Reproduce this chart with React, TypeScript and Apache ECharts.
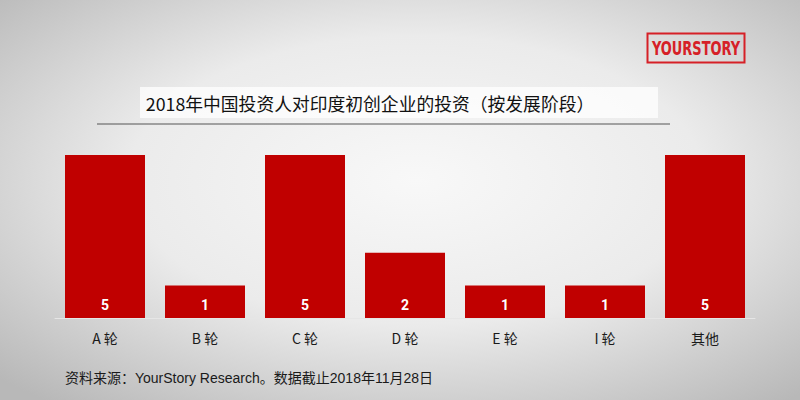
import React, { useEffect, useRef } from "react";
import * as echarts from "echarts";

const categories = ["A 轮", "B 轮", "C 轮", "D 轮", "E 轮", "I 轮", "其他"];
const values = [5, 1, 5, 2, 1, 1, 5];
const titleText = "2018年中国投资人对印度初创企业的投资（按发展阶段）";
const sourceText = "资料来源：YourStory Research。数据截止2018年11月28日";
const logoText = "YOURSTORY";

export default function App() {
  const ref = useRef<HTMLDivElement>(null);
  useEffect(() => {
    if (!ref.current) return;
    const chart = echarts.init(ref.current, undefined, { renderer: "svg" });
    chart.setOption({
      animation: false,
      backgroundColor: {
        type: "radial",
        x: 0.52,
        y: 0.45,
        r: 0.72,
        colorStops: [
          { offset: 0, color: "#f8f8f8" },
          { offset: 0.5, color: "#ebebeb" },
          { offset: 1, color: "#b8b8b8" },
        ],
      },
      grid: { left: 55, right: 45, top: 155, bottom: 82 },
      xAxis: {
        type: "category",
        data: categories,
        axisLine: { show: true, lineStyle: { color: "#e6e6e6", width: 1 } },
        axisTick: { show: false },
        axisLabel: {
          color: "#1a1a1a",
          fontSize: 14,
          margin: 13,
          fontFamily: "'Noto Sans CJK SC', 'Noto Sans', sans-serif",
        },
      },
      yAxis: {
        type: "value",
        min: 0,
        max: 5,
        show: false,
        splitLine: { show: false },
      },
      series: [
        {
          type: "bar",
          data: values,
          barWidth: 80,
          itemStyle: { color: "#c00000" },
          label: {
            show: true,
            position: "insideBottom",
            distance: 6,
            color: "#ffffff",
            fontSize: 14,
            fontWeight: "bold",
            fontFamily: "Roboto, sans-serif",
          },
        },
      ],
      graphic: [
        {
          type: "rect",
          shape: { x: 140, y: 87, width: 518, height: 31 },
          style: { fill: "rgba(255,255,255,0.75)" },
          z: 1,
        },
        {
          type: "text",
          x: 370,
          y: 103,
          z: 2,
          style: {
            text: titleText,
            fill: "#111111",
            fontSize: 17.8,
            fontFamily: "'Noto Sans CJK SC', sans-serif",
            align: "center",
            verticalAlign: "middle",
          },
        },
        {
          type: "line",
          shape: { x1: 97, y1: 124, x2: 670, y2: 124 },
          style: { stroke: "#555555", lineWidth: 1 },
          z: 2,
        },
        {
          type: "rect",
          shape: { x: 647.5, y: 33.5, width: 97, height: 29 },
          style: { fill: "rgba(255,255,255,0)", stroke: "#d62027", lineWidth: 2 },
          z: 2,
        },
        {
          type: "text",
          x: 696,
          y: 48.5,
          scaleX: 0.8,
          scaleY: 1.08,
          z: 2,
          style: {
            text: logoText,
            fill: "#d62027",
            fontSize: 18,
            fontWeight: "bold",
            fontFamily: "'DejaVu Sans Condensed', 'DejaVu Sans', sans-serif",
            align: "center",
            verticalAlign: "middle",
          },
        },
        {
          type: "text",
          x: 65,
          y: 378,
          z: 2,
          style: {
            text: sourceText,
            fill: "#1a1a1a",
            fontSize: 14,
            fontFamily: "'Liberation Sans', 'Noto Sans CJK SC', sans-serif",
            align: "left",
            verticalAlign: "middle",
          },
        },
      ],
    });
    return () => chart.dispose();
  }, []);
  return <div ref={ref} style={{ width: 800, height: 400, position: "absolute", left: 0, top: 0 }} />;
}
